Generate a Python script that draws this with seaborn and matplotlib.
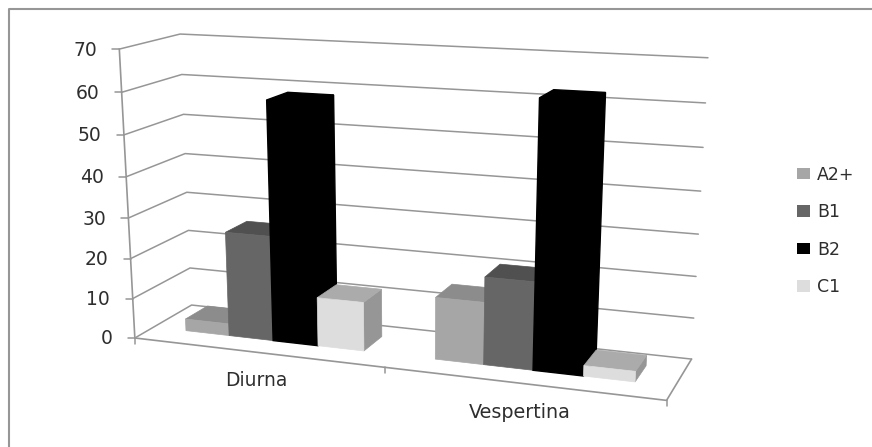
"""Grouped bars by shift, drawn on a projected floor like a spreadsheet 3D column chart."""

import matplotlib

matplotlib.use("Agg")

import matplotlib.pyplot as plt
import numpy as np
import pandas as pd
import seaborn as sns
from matplotlib.lines import Line2D
from matplotlib.patches import Polygon
from matplotlib.transforms import IdentityTransform, Transform

CATEGORIES = ["Diurna", "Vespertina"]
LEVELS = ["A2+", "B1", "B2", "C1"]
A2_VALUES = [3, 15]
B1_VALUES = [26, 21]
B2_VALUES = [58.5, 62.5]
C1_VALUES = [12, 2.5]
Y_TICKS = [0, 10, 20, 30, 40, 50, 60, 70]

FRONT_COLORS = ["#A6A6A6", "#666666", "#000000", "#DDDDDD"]
TOP_COLORS = ["#8C8C8C", "#505050", "#000000", "#ABABAB"]
SIDE_COLORS = ["#8C8C8C", "#505050", "#000000", "#969696"]
LINE_COLOR = "#969696"
TEXT_COLOR = "#2E2E2E"

W, H = 872, 447
BAR_DEPTH = (0.32, 0.72)

# (category x, value, depth) -> pixel, read at the chart box corners
CALIBRATION = [
    ((-0.5, 0, 0), (135, 337)),
    ((-0.5, 70, 0), (119, 49)),
    ((-0.5, 30, 0), (129, 217)),
    ((-0.5, 0, 1), (191, 306)),
    ((-0.5, 70, 1), (180, 34)),
    ((-0.5, 30, 1), (187, 193)),
    ((1.5, 0, 1), (692, 357)),
    ((1.5, 70, 1), (708, 58)),
    ((1.5, 0, 0), (666, 402)),
    ((0.5, 0, 0), (385, 368)),
]


def fit_camera(pairs):
    rows = []
    for (x, v, d), (px, py) in pairs:
        v = v / 70
        rows.append([x, v, d, 1, 0, 0, 0, 0, -px * x, -px * v, -px * d, -px])
        rows.append([0, 0, 0, 0, x, v, d, 1, -py * x, -py * v, -py * d, -py])
    return np.linalg.svd(np.array(rows))[2][-1].reshape(3, 4)


CAMERA = fit_camera(CALIBRATION)


def project(x, v, d):
    """Return display coordinates (y up) for data x, value and depth."""
    x, v = np.asarray(x, float), np.asarray(v, float)
    pts = np.column_stack([x, v / 70, np.full_like(x, d), np.ones_like(x)])
    out = pts @ CAMERA.T
    return np.column_stack([out[:, 0] / out[:, 2], H - out[:, 1] / out[:, 2]])


class DepthPlane(Transform):
    """Data (x, value) on a plane of constant depth -> display pixels."""

    input_dims = 2
    output_dims = 2

    def __init__(self, plane_depth):
        super().__init__()
        self.plane_depth = plane_depth

    def transform_non_affine(self, values):
        values = np.asarray(values)
        return project(values[:, 0], values[:, 1], self.plane_depth)


def draw_walls(ax):
    px = IdentityTransform()
    for tick in Y_TICKS:
        left = project([-0.5], [tick], 0)[0]
        back = project([-0.5], [tick], 1)[0]
        right = project([1.5], [tick], 1)[0]
        ax.plot(*np.array([left, back, right]).T, color=LINE_COLOR, lw=1.1, transform=px, clip_on=False, zorder=1)
        ax.plot([left[0] - 7, left[0]], [left[1], left[1]], color=LINE_COLOR, lw=1.1, transform=px, clip_on=False, zorder=1)
        ax.text(left[0] - 22.5, left[1] - 1, str(tick), ha="right", va="center", fontsize=13.5, color=TEXT_COLOR, transform=px)

    outline = np.vstack([project([-0.5, -0.5], [70, 0], 0), project([1.5], [0], 0), project([1.5], [0], 1)])
    ax.plot(*outline.T, color=LINE_COLOR, lw=1.2, transform=px, clip_on=False, zorder=1)
    for x in [-0.5, 0.5, 1.5]:
        base = project([x], [0], 0)[0]
        ax.plot([base[0], base[0]], [base[1], base[1] - 6], color=LINE_COLOR, lw=1.1, transform=px, clip_on=False, zorder=1)


def draw_bars(ax):
    near, far = BAR_DEPTH
    for j, container in enumerate(ax.containers):
        # the black series needs a wider edge, its faces must read as one shape
        edge = 1.0 if FRONT_COLORS[j] == "#000000" else 0.5
        for i, bar in enumerate(container):
            x0, x1 = bar.get_x(), bar.get_x() + bar.get_width()
            v = bar.get_height()
            order = 10 + i * 10 + j * 2
            top = np.vstack([project([x0, x1], [v, v], near), project([x1, x0], [v, v], far)])
            side = np.vstack([project([x1, x1], [0, v], near), project([x1, x1], [v, 0], far)])
            ax.add_patch(Polygon(side, fc=SIDE_COLORS[j], ec=SIDE_COLORS[j], lw=edge, transform=IdentityTransform(), clip_on=False, zorder=order))
            ax.add_patch(Polygon(top, fc=TOP_COLORS[j], ec=TOP_COLORS[j], lw=edge, transform=IdentityTransform(), clip_on=False, zorder=order))
            bar.set_transform(DepthPlane(near))
            bar.set_clip_on(False)
            bar.set_zorder(order + 1)
            # same colour edge closes the antialiasing seam against the side face
            bar.set_edgecolor(FRONT_COLORS[j])
            bar.set_linewidth(edge)


def main():
    sns.set_theme(style="white")

    df = pd.DataFrame(
        {
            "turno": CATEGORIES * len(LEVELS),
            "nivel": np.repeat(LEVELS, len(CATEGORIES)),
            "valor": A2_VALUES + B1_VALUES + B2_VALUES + C1_VALUES,
        }
    )

    fig = plt.figure(figsize=(W / 100, H / 100), dpi=100)
    ax = fig.add_axes([0, 0, 1, 1])
    sns.barplot(
        data=df, x="turno", y="valor", hue="nivel", hue_order=LEVELS, palette=FRONT_COLORS,
        saturation=1, width=0.725, gap=0, linewidth=0, ax=ax,
    )
    ax.set_xlim(-0.5, 1.5)
    ax.set_ylim(0, 70)
    ax.set_axis_off()

    draw_walls(ax)
    draw_bars(ax)

    ax.text(256, H - 381, CATEGORIES[0], ha="center", va="center", fontsize=13.5, color=TEXT_COLOR, transform=IdentityTransform())
    ax.text(520, H - 413, CATEGORIES[1], ha="center", va="center", fontsize=13.8, color=TEXT_COLOR, transform=IdentityTransform())

    sns.move_legend(
        ax, "center left", bbox_to_anchor=(781 / W, 1 - 231 / H), title=None, frameon=False,
        fontsize=12.5, labelspacing=1.12, handlelength=0.75, handleheight=0.63, handletextpad=0.42,
        labelcolor=TEXT_COLOR,
    )

    # the chart frame only shows on the left and the top
    frame = Line2D([9 / W, 9 / W, 1], [0, 1 - 9 / H, 1 - 9 / H], color="#969696", lw=1.5, transform=fig.transFigure)
    fig.add_artist(frame)

    fig.savefig("out.png", dpi=100)
    plt.close(fig)


if __name__ == "__main__":
    main()
